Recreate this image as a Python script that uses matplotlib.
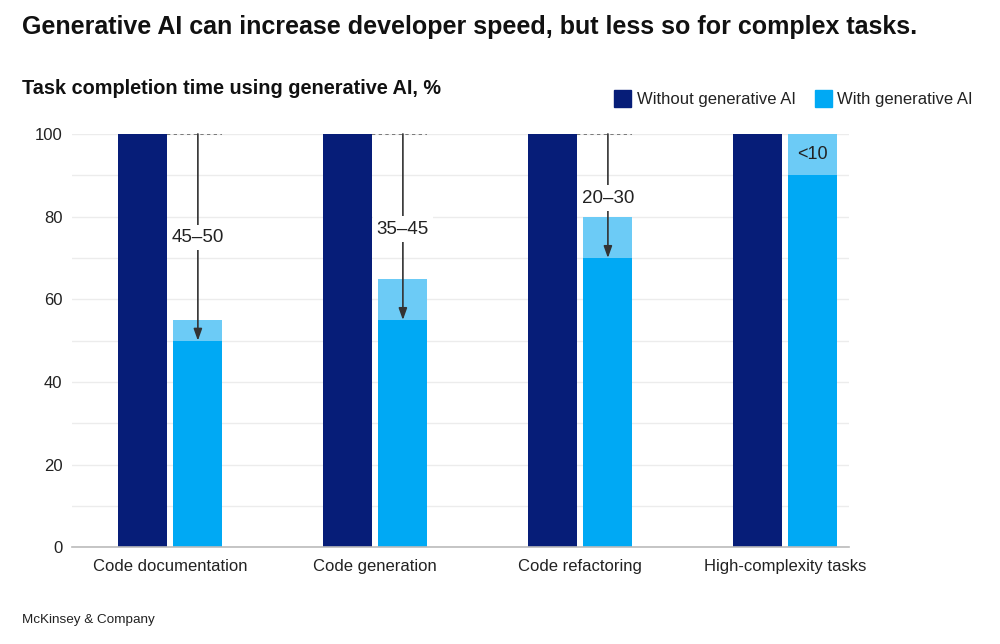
import numpy as np
import matplotlib
matplotlib.use('Agg')
import matplotlib.pyplot as plt

CATEGORIES = ["Code documentation", "Code generation", "Code refactoring", "High-complexity tasks"]
WITHOUT_AI = [100, 100, 100, 100]
WITH_AI_LOW = [50, 55, 70, 90]
WITH_AI_HIGH = [55, 65, 80, 100]
RANGE_LABELS = ["45\u201350", "35\u201345", "20\u201330", "<10"]
LABEL_Y = [75, 77, 84.5, 95]

DARK = "#061d78"
LIGHT = "#00a9f4"
PALE = "#6ccbf6"

plt.rcParams['font.family'] = ['Liberation Sans', 'DejaVu Sans']

fig = plt.figure(figsize=(10, 6.44), dpi=100)
ax = fig.add_axes([0.072, 0.150, 0.777, 0.642])

x = np.arange(len(CATEGORIES))
w = 0.239
off = 0.136

ax.bar(x - off, WITHOUT_AI, w, color=DARK, zorder=2)
ax.bar(x + off, WITH_AI_LOW, w, color=LIGHT, zorder=2)
ax.bar(x + off, np.array(WITH_AI_HIGH) - np.array(WITH_AI_LOW), w,
       bottom=WITH_AI_LOW, color=PALE, zorder=2)

for i in range(len(CATEGORIES)):
    if WITH_AI_HIGH[i] < 100:
        # dotted reference at 100 and arrow down to the low estimate
        ax.plot([x[i] - off + w / 2, x[i] + off + w / 2], [100, 100],
                linestyle=(0, (2, 2)), color="#666666", lw=1.2, zorder=3)
        ax.annotate("", xy=(x[i] + off, WITH_AI_LOW[i]), xytext=(x[i] + off, 100),
                    arrowprops=dict(arrowstyle="-|>,head_length=0.7,head_width=0.25",
                                    color="#333333", lw=1.2, shrinkA=0, shrinkB=0),
                    zorder=4)
        ax.text(x[i] + off, LABEL_Y[i], RANGE_LABELS[i], ha="center", va="center",
                fontsize=13.5, color="#222222", zorder=5,
                bbox=dict(facecolor="white", edgecolor="none", pad=3))
    else:
        ax.text(x[i] + off, LABEL_Y[i], RANGE_LABELS[i], ha="center", va="center",
                fontsize=13, color="#222222", zorder=5)

ax.set_xlim(-0.478, 3.312)
ax.set_ylim(0, 100)
ax.set_yticks([0, 20, 40, 60, 80, 100])
ax.set_yticks([10, 30, 50, 70, 90], minor=True)
ax.set_xticks(x)
ax.set_xticklabels(CATEGORIES, fontsize=12, color="#222222")
ax.tick_params(axis="y", which="both", labelsize=12, colors="#222222", length=0, pad=7)
ax.tick_params(axis="x", length=0, pad=8)
ax.grid(axis="y", which="both", color="#ececec", lw=1, zorder=0)
for s in ["top", "right", "left"]:
    ax.spines[s].set_visible(False)
ax.spines["bottom"].set_color("#bbbbbb")
ax.spines["bottom"].set_linewidth(1.2)
ax.spines["bottom"].set_zorder(3)

fig.text(0.022, 0.958, "Generative AI can increase developer speed, but less so for complex tasks.",
         fontsize=18, fontweight="bold", va="center", ha="left", color="#111111")
fig.text(0.022, 0.862, "Task completion time using generative AI, %",
         fontsize=14.3, fontweight="bold", va="center", ha="left", color="#111111")

# legend
fig.patches.append(matplotlib.patches.Rectangle((0.614, 0.834), 0.017, 0.027,
                   transform=fig.transFigure, color=DARK))
fig.text(0.637, 0.846, "Without generative AI", fontsize=12, va="center", color="#222222")
fig.patches.append(matplotlib.patches.Rectangle((0.815, 0.834), 0.017, 0.027,
                   transform=fig.transFigure, color=LIGHT))
fig.text(0.837, 0.846, "With generative AI", fontsize=12, va="center", color="#222222")

fig.text(0.022, 0.038, "McKinsey & Company", fontsize=9.7, va="center", color="#222222")

fig.savefig("out.png", dpi=100)
